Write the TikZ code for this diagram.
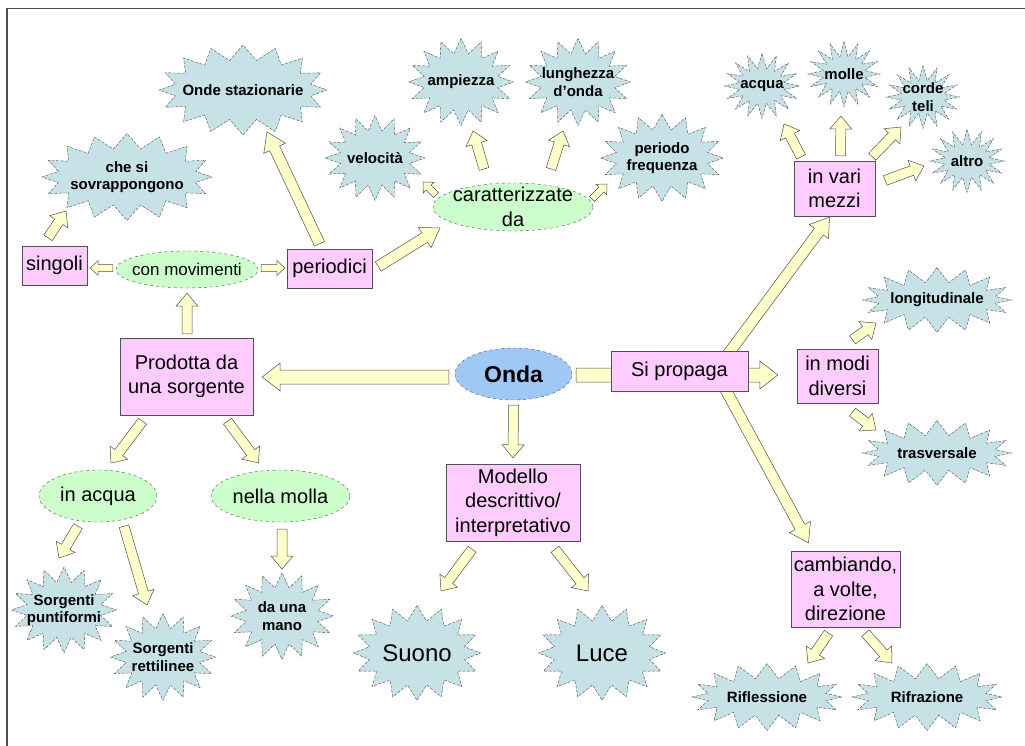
\documentclass[tikz,border=0pt]{standalone}
\usepackage{fontspec}
\setmainfont{Liberation Sans}
\usetikzlibrary{shapes.geometric,shapes.symbols,calc,backgrounds}

\definecolor{boxpink}{HTML}{FFCCFF}
\definecolor{ovalgreen}{HTML}{CCFFCC}
\definecolor{burstblue}{HTML}{C6E2E6}
\definecolor{ondablue}{HTML}{A0C8F5}
\definecolor{arrowyellow}{HTML}{FFFFCC}
\definecolor{edgegray}{HTML}{505050}

\tikzset{
  fa shaft/.store in=\fashaft, fa head/.store in=\fahead, fa len/.store in=\falen,
  fa shaft=5pt, fa head=11pt, fa len=13pt,
  fatarrow/.style={fill=arrowyellow, draw=edgegray, line width=0.5pt},
  tiny arrow/.style={fa shaft=3.5pt, fa head=7.5pt, fa len=8pt},
  long arrow/.style={fa shaft=5.5pt, fa head=12pt, fa len=18pt},
  wide arrow/.style={fa shaft=7pt, fa head=14pt, fa len=18pt},
  box/.style={rectangle, draw=edgegray, fill=boxpink, align=center, inner sep=1pt,
    font=\fontsize{20}{24.5}\selectfont},
  oval/.style={ellipse, draw=edgegray, dashed, fill=ovalgreen, align=center,
    inner xsep=-20pt, inner ysep=-8pt, font=\fontsize{20}{24.5}\selectfont},
  burst/.style={starburst, draw=edgegray, dash pattern=on 3pt off 1.5pt, fill=burstblue,
    align=center, inner xsep=-40pt, inner ysep=-6pt, random starburst=0,
    starburst points=16, starburst point height=15pt,
    font=\bfseries\fontsize{15}{17.5}\selectfont}
}

\newcommand\fatarrow[3][]{%
  \begin{scope}[#1]
    \path (#2) coordinate (fa-a) (#3) coordinate (fa-b);
    \coordinate (fa-n) at ($(fa-b)!\falen!(fa-a)$);
    \filldraw[fatarrow] ($(fa-a)!\fashaft!90:(fa-b)$) -- ($(fa-n)!\fashaft!-90:(fa-a)$)
      -- ($(fa-n)!\fahead!-90:(fa-a)$) -- (fa-b) -- ($(fa-n)!\fahead!90:(fa-a)$)
      -- ($(fa-n)!\fashaft!90:(fa-a)$) -- ($(fa-a)!\fashaft!-90:(fa-b)$) -- cycle;
  \end{scope}}

\begin{document}
\begin{tikzpicture}[x=1pt,y=-1pt]
\useasboundingbox (0,0) rectangle (1025,746);
\draw[edgegray, line width=1.5pt] (7,746) -- (7,8.5) -- (1025,8.5);

\node (onda) [oval, fill=ondablue, minimum width=117pt, minimum height=52pt, font=\bfseries\fontsize{23}{27}\selectfont] at (513.5,374) {Onda};
\node (prop) [box, minimum width=137pt, minimum height=40pt] at (679.5,371) {Si propaga};
\node (prod) [box, minimum width=133pt, minimum height=77pt] at (186.5,376.5) {Prodotta da\\una sorgente};
\node (mod) [box, minimum width=134pt, minimum height=77pt] at (513,502.5) {Modello\\descrittivo/\\interpretativo};
\node (modi) [box, minimum width=81pt, minimum height=54pt] at (837.5,376) {in modi\\diversi};
\node (camb) [box, minimum width=109pt, minimum height=76pt] at (845.5,589) {cambiando,\\a volte,\\direzione};
\node (vari) [box, minimum width=81pt, minimum height=55pt] at (834.5,188.5) {in vari\\mezzi};
\node (sing) [box, minimum width=65pt, minimum height=39pt] at (54.5,265.5) {singoli};
\node (peri) [box, minimum width=85pt, minimum height=39pt] at (329.5,268.5) {periodici};

\node (conm) [oval, minimum width=142pt, minimum height=37pt, font=\fontsize{17}{20}\selectfont] at (187,269.5) {con movimenti};
\node (car) [oval, minimum width=160pt, minimum height=48pt] at (513,207) {caratterizzate\\da};
\node (acq) [oval, minimum width=118pt, minimum height=52pt] at (98,496) {in acqua};
\node (mol) [oval, minimum width=139pt, minimum height=52pt] at (280.5,496) {nella molla};

\node (ondest) [burst, minimum width=168pt, minimum height=90pt] at (243,90) {Onde stazionarie};
\node (ches) [burst, minimum width=170pt, minimum height=87pt] at (127,177) {che si\\sovrappongono};
\node (velo) [burst, minimum width=100pt, minimum height=85pt] at (375,158) {velocità};
\node (amp) [burst, minimum width=105pt, minimum height=87pt] at (461,82) {ampiezza};
\node (lung) [burst, minimum width=105pt, minimum height=87pt] at (578,82) {lunghezza\\d'onda};
\node (perf) [burst, minimum width=123pt, minimum height=87pt] at (662,158) {periodo\\frequenza};
\node (wacq) [burst, minimum width=75pt, minimum height=65pt] at (762,86) {acqua};
\node (molle) [burst, minimum width=72pt, minimum height=65pt] at (844,74) {molle};
\node (corde) [burst, minimum width=73pt, minimum height=63pt] at (923,97) {corde\\teli};
\node (altro) [burst, minimum width=75pt, minimum height=63pt] at (967,161) {altro};
\node (longi) [burst, minimum width=149pt, minimum height=65pt] at (937,300) {longitudinale};
\node (trasv) [burst, minimum width=149pt, minimum height=65pt] at (937,453) {trasversale};
\node (rifl) [burst, minimum width=150pt, minimum height=67pt] at (767,697) {Riflessione};
\node (rifr) [burst, minimum width=150pt, minimum height=67pt] at (927,697) {Rifrazione};
\node (suono) [burst, minimum width=127pt, minimum height=95pt, font=\fontsize{24}{28}\selectfont] at (417,653) {Suono};
\node (luce) [burst, minimum width=127pt, minimum height=95pt, font=\fontsize{24}{28}\selectfont] at (602,653) {Luce};
\node (punt) [burst, minimum width=105pt, minimum height=86pt] at (64,610) {Sorgenti\\puntiformi};
\node (rett) [burst, minimum width=105pt, minimum height=87pt] at (163,657) {Sorgenti\\rettilinee};
\node (mano) [burst, minimum width=103pt, minimum height=87pt] at (282,616) {da una\\mano};

\begin{pgfonlayer}{background}
\coordinate (hub) at ($(prop.center)+(36,0)$);
\fatarrow[tiny arrow]{$(conm.west)+(-3,-1.5)$}{$(sing.east)+(3,2.5)$}
\fatarrow[tiny arrow]{$(conm.east)+(3,-1.5)$}{$(peri.west)+(-2,-0.5)$}
\fatarrow{$(prod.north)+(0.5,-4)$}{$(conm.south)+(0,5)$}
\fatarrow{$(sing.north)+(-6.5,-8)$}{$(ches.center)+(-61,34)$}
\fatarrow[long arrow]{$(peri.north)+(-10,-5)$}{$(ondest.center)+(24,42)$}
\fatarrow[long arrow]{$(peri.east)+(6,-2)$}{$(car.center)+(-73,21)$}
\fatarrow[tiny arrow]{$(car.center)+(-77,-12)$}{$(velo.center)+(48,24)$}
\fatarrow{$(car.center)+(-29,-38)$}{$(amp.center)+(12,49)$}
\fatarrow{$(car.center)+(38,-38)$}{$(lung.center)+(-15,49)$}
\fatarrow[tiny arrow]{$(car.center)+(79,-8)$}{$(perf.center)+(-55,26)$}
\fatarrow[long arrow]{hub}{$(vari.south)+(-5,1)$}
\fatarrow[long arrow]{hub}{$(camb.north)+(-37,-8)$}
\fatarrow{$(vari.north)+(-33.5,-4)$}{$(wacq.center)+(22,38)$}
\fatarrow{$(vari.north)+(6,-5)$}{$(molle.center)+(-3,42)$}
\fatarrow{$(vari.north east)+(-3,-4)$}{$(corde.center)+(-22,30)$}
\fatarrow{$(vari.east)+(10,-8)$}{$(altro.center)+(-43,5)$}
\fatarrow[wide arrow]{$(onda.east)+(4,1)$}{$(modi.west)+(-19,-1)$}
\fatarrow[wide arrow]{$(onda.west)+(-6,3)$}{$(prod.east)+(9,0.5)$}
\fatarrow{$(modi.north)+(15,-9)$}{$(longi.center)+(-61,23)$}
\fatarrow{$(modi.south)+(15,9)$}{$(trasv.center)+(-61,-23)$}
\fatarrow{$(camb.south)+(-17,6)$}{$(rifl.center)+(41,-34)$}
\fatarrow{$(camb.south)+(20,6)$}{$(rifr.center)+(-35,-34)$}
\fatarrow{$(onda.south)+(0,5)$}{$(mod.north)+(0,-6)$}
\fatarrow{$(mod.south)+(-41,8)$}{$(suono.center)+(24,-62)$}
\fatarrow{$(mod.south)+(42,8)$}{$(luce.center)+(-14,-62)$}
\fatarrow{$(prod.south)+(-44,6)$}{$(acq.center)+(13,-33)$}
\fatarrow{$(prod.south)+(41,6)$}{$(mol.center)+(-22,-33)$}
\fatarrow{$(acq.south)+(-20,4)$}{$(punt.center)+(-5,-52)$}
\fatarrow{$(acq.south)+(26,4)$}{$(rett.center)+(-16,-52)$}
\fatarrow{$(mol.south)+(1.5,7)$}{$(mano.center)+(0,-47)$}
\end{pgfonlayer}
\end{tikzpicture}
\end{document}
